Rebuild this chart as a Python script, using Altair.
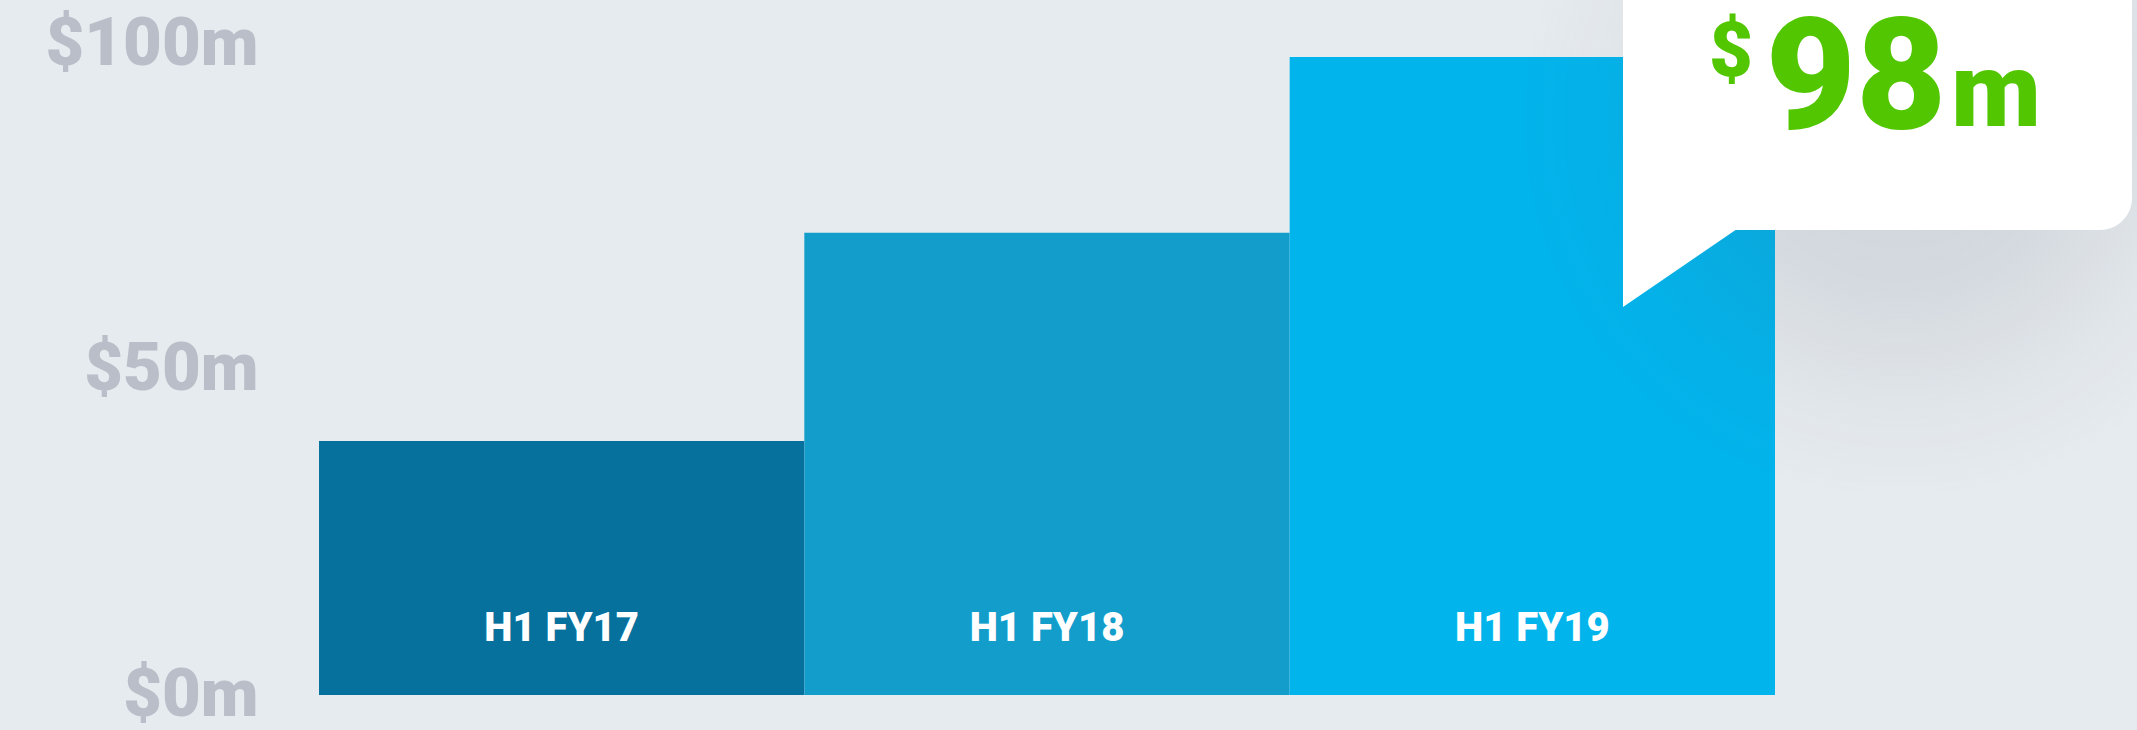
import altair as alt
import pandas as pd

# ---- data ----
categories = ["H1 FY17", "H1 FY18", "H1 FY19"]
values = [39, 71, 98]
bar_colors = ["#07719e", "#129dcb", "#02b4ec"]
tick_values = [0, 50, 100]
highlight_value = values[-1]

# ---- layout (pixels) ----
TOTAL_W, TOTAL_H = 2137, 730
LEFT, TOP = 319, 44
PLOT_W, PLOT_H = 1456, 651
Y_MAX = 100


def xd(px):
    return (px - LEFT) / PLOT_W * len(categories)


def yd(py):
    return (TOP + PLOT_H - py) / PLOT_H * Y_MAX


X_SCALE = alt.Scale(domain=[0, len(categories)], nice=False, zero=False)
Y_SCALE = alt.Scale(domain=[0, Y_MAX], nice=False, zero=False)
Y_AXIS = alt.Axis(
    values=tick_values,
    labelExpr="'$' + datum.value + 'm'",
    title=None,
    domain=False, ticks=False, tickSize=0, grid=False,
    labelFont="Roboto", labelFontWeight=900, labelFontSize=67,
    labelColor="#b9bec8", labelPadding=61, labelFlush=False,
    labelOverlap=False, labelBound=False, labelLimit=500,
    labelAlign="right", labelBaseline="middle",
)

bars_df = pd.DataFrame({
    "category": categories,
    "value": values,
    "i0": list(range(len(categories))),
    "i1": [i + 1 for i in range(len(categories))],
    "mid": [i + 0.5 for i in range(len(categories))],
})

bars = alt.Chart(bars_df).mark_rect().encode(
    x=alt.X("i0:Q", scale=X_SCALE, axis=None),
    x2="i1:Q",
    y=alt.Y("value:Q", scale=Y_SCALE, axis=Y_AXIS),
    y2=alt.Y2Datum(0),
    color=alt.Color("category:N",
                    scale=alt.Scale(domain=categories, range=bar_colors),
                    legend=None),
)

labels = alt.Chart(bars_df).mark_text(
    font="Roboto", fontWeight=900, fontSize=40, color="white",
    align="center", baseline="alphabetic",
).encode(
    x=alt.X("mid:Q", scale=X_SCALE, axis=None),
    y=alt.YDatum(yd(641), scale=Y_SCALE, axis=Y_AXIS),
    text="category:N",
)

# ---- callout shadow (soft radial glow under the box) ----
shadow_df = pd.DataFrame({"x": [xd(1520)], "x2": [xd(2280)],
                          "y": [yd(-260)], "y2": [yd(500)]})
shadow = alt.Chart(shadow_df).mark_rect(
    fill=alt.RadialGradient(
        gradient="radial",
        x1=0.5, y1=0.5, r1=0, x2=0.5, y2=0.5, r2=0.5,
        stops=[
            alt.GradientStop(color="rgba(70,80,95,0.15)", offset=0),
            alt.GradientStop(color="rgba(70,80,95,0.11)", offset=0.45),
            alt.GradientStop(color="rgba(70,80,95,0.04)", offset=0.75),
            alt.GradientStop(color="rgba(70,80,95,0)", offset=1),
        ],
    )
).encode(
    x=alt.X("x:Q", scale=X_SCALE, axis=None), x2="x2:Q",
    y=alt.Y("y:Q", scale=Y_SCALE, axis=Y_AXIS), y2="y2:Q",
)

# ---- callout box ----
box_df = pd.DataFrame({"x": [xd(1623)], "x2": [xd(2132)],
                       "y": [yd(-20)], "y2": [yd(230)]})
box = alt.Chart(box_df).mark_rect(
    color="white", cornerRadiusBottomRight=32
).encode(
    x=alt.X("x:Q", scale=X_SCALE, axis=None), x2="x2:Q",
    y=alt.Y("y:Q", scale=Y_SCALE, axis=Y_AXIS), y2="y2:Q",
)

tri_df = pd.DataFrame({"x": [xd(1623), xd(1737)],
                       "y": [yd(307), yd(229)],
                       "y2": [yd(229), yd(229)]})
pointer = alt.Chart(tri_df).mark_area(
    color="white", orient="vertical", interpolate="linear"
).encode(
    x=alt.X("x:Q", scale=X_SCALE, axis=None),
    y=alt.Y("y:Q", scale=Y_SCALE, axis=Y_AXIS), y2="y2:Q",
)

GREEN = "#52c600"
call_df = pd.DataFrame({
    "t": ["$", str(highlight_value), "m"],
    "x": [xd(1731), xd(1856), xd(1996)],
    "y": [yd(76), yd(128), yd(126)],
    "size": [76, 156, 104],
})
callout_text = alt.Chart(call_df).mark_text(
    font="Roboto", fontWeight=900, color=GREEN,
    align="center", baseline="alphabetic",
).encode(
    x=alt.X("x:Q", scale=X_SCALE, axis=None),
    y=alt.Y("y:Q", scale=Y_SCALE, axis=Y_AXIS),
    text="t:N",
    size=alt.Size("size:Q", scale=None, legend=None),
)

chart = alt.layer(bars, labels, shadow, box, pointer, callout_text).properties(
    width=PLOT_W,
    height=PLOT_H,
    autosize=alt.AutoSizeParams(type="none"),
    padding={"left": LEFT, "top": TOP,
             "right": TOTAL_W - LEFT - PLOT_W,
             "bottom": TOTAL_H - TOP - PLOT_H},
    background="#e6ebef",
).configure_view(
    stroke=None
)

chart.save("out.html", embed_options={"renderer": "svg", "actions": False})
